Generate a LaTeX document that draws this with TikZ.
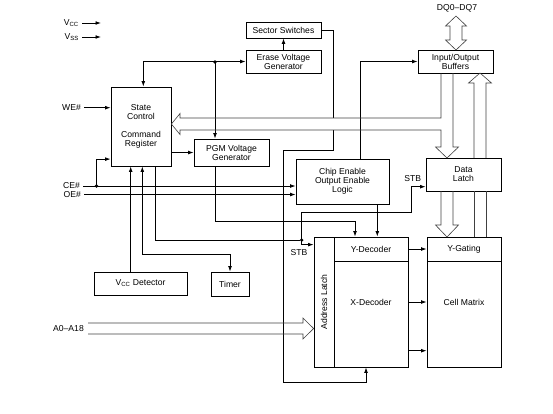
\documentclass[tikz,border=0pt]{standalone}
\usepackage{fontspec}
\setmainfont{Liberation Sans}
\usetikzlibrary{arrows.meta, positioning, calc}
\tikzset{
  block_box/.style={rectangle, draw=black, line width=0.8pt, inner sep=1pt, align=center, font=\fontsize{8.6}{9}\selectfont},
  arrow/.style={->, line width=0.8pt, >={Latex[length=5.5pt,width=3.8pt]}},
  two_way/.style={<->, line width=0.8pt, >={Latex[length=5.5pt,width=3.8pt]}},
  wire/.style={-, line width=0.8pt},
  bus_line/.style={line width=0.6pt, draw=black!75, line join=miter},
  pin_label/.style={anchor=east, inner sep=3pt, font=\fontsize{8.6}{9}\selectfont},
  label_text/.style={font=\fontsize{8.6}{9}\selectfont},
  junction/.style={circle, fill=black, inner sep=0pt, minimum size=3.6pt}
}
\begin{document}
\begin{tikzpicture}[x=1pt, y=-1pt]
    \useasboundingbox (0,0) rectangle (553,413);

    % Blocks placed at absolute positions (picture is laid out in pixels, y down)
    \node[block_box, minimum width=75pt, minimum height=16pt] (sector_sw) at (283.5,30) {Sector Switches};
    \node[block_box, minimum width=75pt, minimum height=23pt] (erase_gen) at (283.5,61.5) {Erase Voltage\\Generator};
    \node[block_box, minimum width=60pt, minimum height=79pt] (state_ctrl) at (141,126.5) {State\\Control\\[9pt]Command\\Register};
    \node[block_box, minimum width=75pt, minimum height=27pt] (pgm_gen) at (231.5,152.5) {PGM Voltage\\Generator};
    \node[block_box, minimum width=93pt, minimum height=45pt] (ce_logic) at (342.5,181.5) {Chip Enable\\Output Enable\\Logic};
    \node[block_box, minimum width=75pt, minimum height=23pt] (io_buf) at (455.5,61.5) {Input/Output\\Buffers};
    \node[block_box, minimum width=75pt, minimum height=33pt] (data_latch) at (463.5,174.5) {Data\\Latch};
    \node[block_box, minimum width=93pt, minimum height=23pt] (vcc_det) at (140.5,283.5) {V\textsubscript{CC} Detector};
    \node[block_box, minimum width=38pt, minimum height=24pt] (timer) at (230,284) {Timer};
    \node[block_box, minimum width=20pt, minimum height=130pt] (addr_latch) at (324,302) {};
    \node[label_text, rotate=90] (addr_text) at (addr_latch.center) {Address Latch};
    \node[block_box, minimum width=74pt, minimum height=130pt] (x_dec) at (371,302) {X-Decoder};
    \node[block_box, minimum width=74pt, minimum height=24pt] (y_dec) at (371,249) {Y-Decoder};
    \node[block_box, minimum width=74pt, minimum height=130pt] (cell_matrix) at (464,302) {Cell Matrix};
    \node[block_box, minimum width=74pt, minimum height=24pt] (y_gate) at (464,249) {Y-Gating};

    % Pins and small labels
    \node[pin_label] (vcc_pin) at (82,23) {V\textsubscript{CC}};
    \node[pin_label] (vss_pin) at (82,37) {V\textsubscript{SS}};
    \node[pin_label] (we_pin) at (84,107.7) {WE\#};
    \node[pin_label] (ce_pin) at (83,186) {CE\#};
    \node[pin_label] (oe_pin) at (84,194.5) {OE\#};
    \node[pin_label] (addr_pin) at (87,328.5) {A0--A18};
    \node[label_text] (dq_pin) at (457,8) {DQ0--DQ7};
    \node[label_text] (stb_a) at (299,253) {STB};
    \node[label_text] (stb_b) at (412.7,178.3) {STB};

    % Junctions and routing points
    \node[junction] (ce_dot) at (96.5,186) {};
    \node[junction] (top_dot) at (215,62) {};
    \node[junction] (stb_dot) at (301.7,240) {};
    \coordinate (vcc_end) at (101,23);
    \coordinate (vss_end) at (101,37);
    \coordinate (pgm_rail) at (215,221.7);
    \coordinate (timer_rail) at (230,254);
    \coordinate (stb_rail) at (411.7,212);
    \coordinate (loop_top) at (283.3,150);
    \coordinate (loop_bot) at (283.3,382);
    \coordinate (bus_hi) at (441,118);
    \coordinate (bus_lo) at (441,130);

    % Signal lines
    \draw[arrow] (vcc_pin) -- (vcc_end);
    \draw[arrow] (vss_pin) -- (vss_end);
    \draw[arrow] (we_pin) -- (we_pin -| state_ctrl.west);
    \draw[arrow] (ce_pin) -- (ce_pin -| ce_logic.west);
    \draw[arrow] (oe_pin) -- (oe_pin -| ce_logic.west);
    \draw[arrow] (ce_dot.center) |- ([yshift=7.3pt]state_ctrl.south west);
    \draw[two_way] ([xshift=2.3pt]state_ctrl.north) |- (erase_gen.west);
    \draw[arrow] (top_dot.center) -- (top_dot |- pgm_gen.north);
    \draw[arrow] (state_ctrl.east |- pgm_gen.west) -- (pgm_gen.west);
    \draw[arrow] (pgm_gen.south -| pgm_rail) -- (pgm_rail) -| ([xshift=-16pt]y_dec.north);
    \draw[arrow] ([xshift=6.3pt]y_dec.north |- ce_logic.south) -- ([xshift=6.3pt]y_dec.north);
    \draw[arrow] ([xshift=17.5pt]ce_logic.north) |- (io_buf.west);
    \draw[arrow] (erase_gen) -- (sector_sw);
    \draw[wire] (sector_sw.east) -| (x_dec.west |- bus_hi);
    \draw[arrow] (x_dec.west |- bus_lo) |- (loop_top) -- (loop_bot) -| ([xshift=-5pt]x_dec.south);
    \draw[wire] ([xshift=14.7pt]state_ctrl.south) |- (stb_dot);
    \draw[arrow] (stb_dot.center) |- ([yshift=-8pt]addr_latch.north west);
    \draw[arrow] (stb_dot.center) |- (stb_rail) |- ([yshift=-12.2pt]data_latch.west);
    \draw[arrow] ([xshift=-9.8pt]vcc_det.north) -- ([xshift=-10.3pt]state_ctrl.south);
    \draw[two_way] ([xshift=1.3pt]state_ctrl.south) |- (timer_rail) -- (timer.north);
    \draw[arrow] (y_dec.east) -- (y_gate.west);
    \draw[arrow] (x_dec.east) -- (cell_matrix.west);
    \draw[arrow] ([yshift=-48.7pt]x_dec.east) -- ([yshift=-48.7pt]cell_matrix.west);

    % Hollow bus arrows
    \draw[bus_line] (io_buf.south -| bus_hi) -- (bus_hi) -- (180,118) -- (180,113.5) -- (state_ctrl.east |- 0,124) -- (180,134.5) -- (180,130) -- (bus_lo) -- (441,147) -- (435.5,147) -- (447,158) -- (458.5,147) -- (453,147) -- (453,73);
    \draw[bus_line] (441,191) -- (441,225) -- (435.5,225) -- (447,237) -- (458.5,225) -- (453,225) -- (453,191);
    \draw[bus_line] (474,237) -- (474,191) (486,191) -- (486,237);
    \draw[bus_line] (474,158) -- (474,83) -- (468.5,83) -- (480,73) -- (491.5,83) -- (486,83) -- (486,158);
    \draw[bus_line] (450,26) -- (450,40) -- (445.5,40) -- (456,50) -- (466.5,40) -- (462,40) -- (462,26) -- (466.5,26) -- (456,16) -- (445.5,26) -- cycle;
    \draw[bus_line] (88,323) -- (303,323) -- (303,318) -- (addr_latch.west |- 0,328.5) -- (303,339) -- (303,334) -- (88,334);
\end{tikzpicture}
\end{document}
